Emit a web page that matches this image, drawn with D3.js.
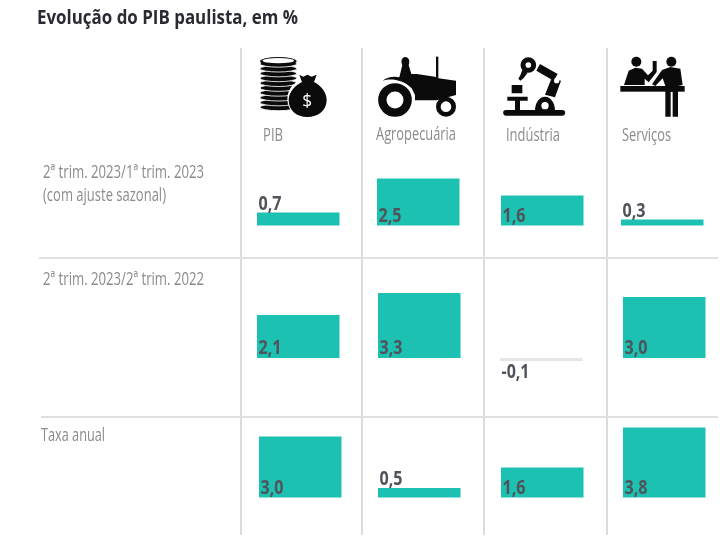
<!DOCTYPE html>
<html lang="pt"><head><meta charset="utf-8">
<script src="https://cdn.jsdelivr.net/npm/d3@7"></script>
<style>html,body{margin:0;padding:0;background:#fff}svg{display:block;filter:blur(0.35px)}text{font-family:"Open Sans",sans-serif}</style>
</head><body><div id="chart"></div>
<script>
const title = "Evolução do PIB paulista, em %";
const categories = ["PIB","Agropecuária","Indústria","Serviços"];
const periods = ["q2q1","q2yoy","annual"];
const values_q2q1 = [0.7,2.5,1.6,0.3];
const values_q2yoy = [2.1,3.3,-0.1,3.0];
const values_annual = [3.0,0.5,1.6,3.8];
const seriesValues = [values_q2q1,values_q2yoy,values_annual];

const W=720,H=546;
const svg=d3.select("#chart").append("svg").attr("width",W).attr("height",H);

// layout
const columnX=d3.scaleOrdinal().domain(categories).range([257,378,501,622]);
const rowNudge=[[0,-1,0,-1],[0,0,-1,1],[2,0,0,1]];
const barW=82.5;
const baseY=d3.scaleOrdinal().domain(periods).range([225.5,358,497.5]);
// the source bars are not strictly proportional; this follows their drawn heights
const h=d3.scaleLinear().domain([0,0.3,0.7,1.6,2.1,2.5,3.0,3.3,3.8]).range([0,6,13,30,43,47,61,65,70]);

function fit(sel,x,y,str,size,weight,fill,len){
  return sel.append("text").attr("x",x).attr("y",y).text(str)
    .attr("font-size",size).attr("font-weight",weight).attr("fill",fill)
    .attr("textLength",len).attr("lengthAdjust","spacingAndGlyphs");
}

// grid
const grid=svg.append("g");
[241,362,484,607].forEach(x=>grid.append("line").attr("x1",x).attr("x2",x).attr("y1",48).attr("y2",535).attr("stroke","#d2d2d2").attr("stroke-width",1.6));
[[258,39],[417,41]].forEach(([y,x])=>grid.append("line").attr("x1",x).attr("x2",718).attr("y1",y).attr("y2",y).attr("stroke","#e0e0e0").attr("stroke-width",2));

// title
fit(svg,37,24,title,20,700,"#2a2a33",261);

// row labels
const grey="#8b8b8b";
fit(svg,43,178,"2ª trim. 2023/1ª trim. 2023",18.5,400,grey,161);
fit(svg,43,201,"(com ajuste sazonal)",18.5,400,grey,123);
fit(svg,43,285,"2ª trim. 2023/2ª trim. 2022",18.5,400,grey,161);
fit(svg,41,441,"Taxa anual",18.5,400,grey,64);

// column labels
const colLabel=[[263,141,20],[376,140,80],[506,141,54],[622,141,49]];
categories.forEach((c,i)=>fit(svg,colLabel[i][0],colLabel[i][1],c,18.5,400,grey,colLabel[i][2]));

// bars
periods.forEach((p,r)=>{
  const y0=baseY(p);
  const g=svg.append("g");
  g.selectAll("rect").data(seriesValues[r]).join("rect")
    .attr("x",(d,i)=>columnX(categories[i])+rowNudge[r][i])
    .attr("width",barW)
    .attr("y",d=>d>=0?y0-h(d):y0)
    .attr("height",d=>d>=0?h(d):3)
    .attr("fill",d=>d>=0?"#1cc1b2":"#e6e6e6");
  seriesValues[r].forEach((d,i)=>{
    const x=columnX(categories[i])+rowNudge[r][i]+1.5;
    const y=d<0?y0+20:(d<=0.7?y0-h(d)-3:y0-4);
    const str=d3.format(".1f")(d).replace(".",",").replace("−","-");
    fit(g,x,y,str,19,700,"#50535a",d<0?28:23);
  });
});

// icons, drawn at 3x inside a scaled group
const ink="#0b0b0b";
function icon(x,y){return svg.append("g").attr("transform",`translate(${x},${y}) scale(${1/3})`);}

// PIB: coins and money bag
const a=icon(250,50);
d3.range(10).forEach(i=>{
  a.append("ellipse").attr("cx",85).attr("cy",172-i*14.5).attr("rx",55).attr("ry",10)
   .attr("fill",ink).attr("stroke","#fff").attr("stroke-width",2.5);
});
a.append("ellipse").attr("cx",85).attr("cy",34).attr("rx",55).attr("ry",13).attr("fill",ink);
a.append("ellipse").attr("cx",85).attr("cy",32).attr("rx",47).attr("ry",8).attr("fill","#fff");
a.append("circle").attr("cx",172).attr("cy",147).attr("r",60).attr("fill","#fff");
a.append("path").attr("fill",ink).attr("d","M148 74 L160 80 L172 74 L185 80 L200 74 L192 96 C215 108 230 128 230 150 C230 182 204 201 172 201 C140 201 116 182 116 150 C116 128 134 106 156 96 Z");
a.append("text").attr("x",172).attr("y",170).attr("text-anchor","middle").attr("font-size",52).attr("font-weight",400).attr("fill","#fff").text("$");

// Agropecuária: tractor
const b=icon(370,50);
b.append("path").attr("fill",ink).attr("d","M135 151 L200 151 L258 135 L258 92 L205 85 L195 80 L140 72 L124 72 L116 45 C120 35 118 22 106 21 C94 22 92 35 97 45 L88 82 C70 78 50 82 38 92 C60 84 100 88 125 115 L135 135 Z");
b.append("rect").attr("x",198).attr("y",20).attr("width",7).attr("height",70).attr("fill",ink);
b.append("circle").attr("cx",75).attr("cy",150).attr("r",38).attr("fill","none").attr("stroke",ink).attr("stroke-width",25);
b.append("circle").attr("cx",228).attr("cy",170).attr("r",23).attr("fill","none").attr("stroke",ink).attr("stroke-width",14);

// Indústria: robot arm
const c=icon(495,50);
c.append("path").attr("fill",ink).attr("d","M33 180 H202 A8.5 8.5 0 0 1 202 197 H33 A8.5 8.5 0 0 1 33 180 Z M37 140 H98 V152 H75 V180 H60 V152 H37 Z M50 105 H82 V130 H50 Z");
c.append("path").attr("fill",ink).attr("d","M120 182 A30 42 0 0 1 180 182 Z");
c.append("circle").attr("cx",150).attr("cy",167).attr("r",11).attr("fill","#fff");
c.append("path").attr("fill",ink).attr("d","M135 42 L188 72 L176 92 L124 62 Z M150 134 L170 84 L198 92 L180 142 Z");
c.append("circle").attr("cx",185).attr("cy",92).attr("r",8).attr("fill","#fff");
c.append("circle").attr("cx",100).attr("cy",45).attr("r",16).attr("fill","none").attr("stroke",ink).attr("stroke-width",15);
c.append("path").attr("fill",ink).attr("d","M82 60 L98 68 L86 84 L76 92 L70 86 L76 76 Z");

// Serviços: counter scene
const e=icon(612,50);
e.append("rect").attr("x",25).attr("y",108).attr("width",193).attr("height",17).attr("fill",ink);
e.append("circle").attr("cx",73).attr("cy",35).attr("r",15).attr("fill",ink);
e.append("path").attr("fill",ink).attr("d","M36 105 L50 62 L70 53 L90 56 L108 76 L122 62 L122 33 L134 33 L134 66 L110 97 L98 86 L98 105 Z");
e.append("circle").attr("cx",178).attr("cy",35).attr("r",15).attr("fill",ink);
e.append("path").attr("fill",ink).attr("d","M120 103 L150 60 L175 51 L205 56 L212 105 L198 108 L198 200 L182 200 L182 125 L176 125 L176 200 L160 200 L160 108 L152 85 L130 108 Z");
</script></body></html>
